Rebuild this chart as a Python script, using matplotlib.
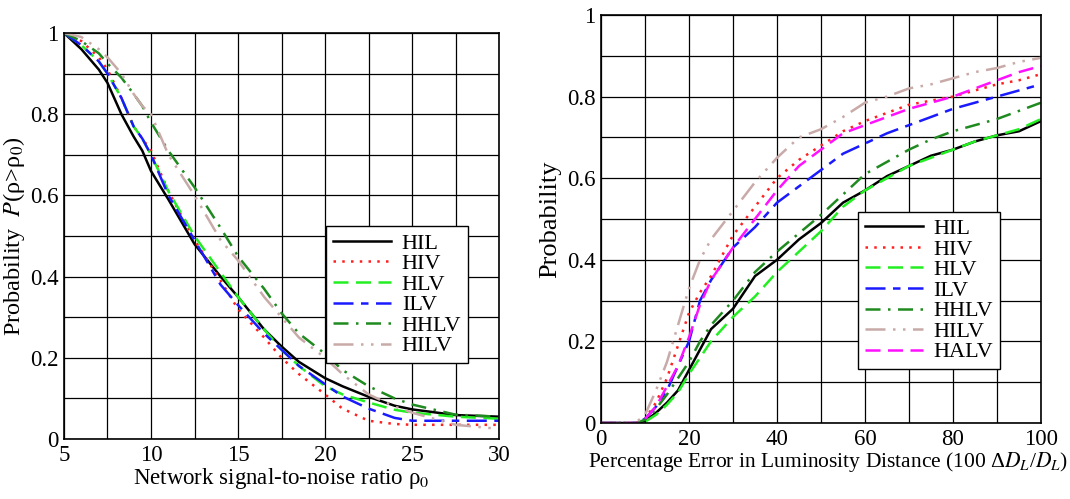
import matplotlib
matplotlib.use("Agg")
import matplotlib.pyplot as plt
from matplotlib.ticker import MultipleLocator, FuncFormatter

plt.rcParams['font.family'] = ['Liberation Serif', 'DejaVu Serif']
plt.rcParams['mathtext.fontset'] = 'stix'

# left panel: P(rho > rho0) vs network SNR
snr_x = [5, 6, 7, 7.5, 8.3, 9, 9.5, 10, 11, 12.5, 14, 15, 16.5, 17.5, 18.5, 20, 21, 22.5, 24, 25, 27.5, 30]
snr_hil = [1.0, 0.96, 0.91, 0.877, 0.80, 0.745, 0.71, 0.66, 0.59, 0.48, 0.40, 0.35, 0.27, 0.228, 0.19, 0.15, 0.13, 0.104, 0.082, 0.073, 0.059, 0.055]
snr_hiv = [1.0, 0.98, 0.94, 0.91, 0.84, 0.77, 0.74, 0.71, 0.61, 0.49, 0.39, 0.32, 0.25, 0.20, 0.16, 0.11, 0.075, 0.045, 0.037, 0.035, 0.035, 0.035]
snr_hlv = [1.0, 0.97, 0.93, 0.90, 0.84, 0.77, 0.74, 0.70, 0.61, 0.50, 0.41, 0.35, 0.27, 0.22, 0.18, 0.13, 0.11, 0.09, 0.072, 0.065, 0.055, 0.05]
snr_ilv = [1.0, 0.97, 0.93, 0.90, 0.84, 0.77, 0.74, 0.70, 0.60, 0.49, 0.38, 0.33, 0.26, 0.22, 0.18, 0.135, 0.105, 0.075, 0.052, 0.045, 0.045, 0.045]
snr_hhlv = [1.0, 0.98, 0.95, 0.925, 0.89, 0.85, 0.82, 0.78, 0.71, 0.62, 0.52, 0.45, 0.37, 0.31, 0.26, 0.21, 0.17, 0.13, 0.10, 0.085, 0.06, 0.055]
snr_hilv = [1.0, 0.99, 0.96, 0.94, 0.90, 0.85, 0.82, 0.80, 0.70, 0.60, 0.49, 0.44, 0.35, 0.30, 0.25, 0.20, 0.16, 0.11, 0.08, 0.065, 0.035, 0.025]

# right panel: probability vs percentage error in luminosity distance
err_x = [0, 5, 8, 10, 12.5, 15, 17.5, 20, 22.5, 25, 30, 35, 40, 45, 50, 55, 60, 65, 70, 75, 80, 85, 90, 95, 100]
err_hil = [0, 0, 0, 0.005, 0.025, 0.05, 0.08, 0.13, 0.18, 0.23, 0.28, 0.36, 0.40, 0.45, 0.49, 0.54, 0.57, 0.605, 0.63, 0.655, 0.67, 0.69, 0.705, 0.715, 0.74]
err_hiv = [0, 0, 0, 0.01, 0.05, 0.11, 0.19, 0.27, 0.32, 0.36, 0.46, 0.53, 0.60, 0.645, 0.68, 0.715, 0.74, 0.76, 0.78, 0.79, 0.80, 0.815, 0.83, 0.84, 0.855]
err_hlv = [0, 0, 0, 0.003, 0.02, 0.045, 0.075, 0.12, 0.16, 0.20, 0.26, 0.31, 0.37, 0.42, 0.47, 0.53, 0.57, 0.60, 0.63, 0.65, 0.67, 0.69, 0.705, 0.72, 0.745]
err_ilv = [0, 0, 0, 0.01, 0.04, 0.08, 0.14, 0.20, 0.30, 0.35, 0.43, 0.48, 0.54, 0.58, 0.62, 0.66, 0.685, 0.71, 0.73, 0.75, 0.77, 0.785, 0.80, 0.815, 0.83]
err_hhlv = [0, 0, 0, 0.008, 0.035, 0.07, 0.11, 0.15, 0.20, 0.24, 0.30, 0.37, 0.42, 0.465, 0.51, 0.56, 0.61, 0.64, 0.67, 0.695, 0.715, 0.73, 0.745, 0.765, 0.785]
err_hilv = [0, 0, 0.002, 0.02, 0.08, 0.15, 0.24, 0.33, 0.40, 0.45, 0.52, 0.59, 0.65, 0.70, 0.72, 0.75, 0.785, 0.80, 0.82, 0.83, 0.845, 0.86, 0.87, 0.885, 0.895]
err_halv = [0, 0, 0, 0.01, 0.04, 0.09, 0.14, 0.21, 0.29, 0.35, 0.43, 0.50, 0.57, 0.63, 0.67, 0.71, 0.73, 0.75, 0.77, 0.785, 0.80, 0.82, 0.84, 0.86, 0.875]

styles = {
    'HIL': dict(color='black', ls='-'),
    'HIV': dict(color='#ff2020', ls=(0, (1, 2.5))),
    'HLV': dict(color='#22ee22', ls=(0, (6, 3))),
    'ILV': dict(color='#1a1aff', ls=(0, (8, 3, 3, 3))),
    'HHLV': dict(color='#1f8a1f', ls=(0, (6, 3, 1, 3))),
    'HILV': dict(color='#c8aaa8', ls=(0, (8, 3, 1, 3, 1, 3))),
    'HALV': dict(color='#ff10ff', ls=(0, (6, 3))),
}


def fmt(v, pos):
    return ('%g' % v)


def style_axes(ax):
    ax.grid(True, which='both', color='black', lw=0.9)
    ax.set_axisbelow(True)
    ax.tick_params(which='both', length=0, labelsize=16.5, pad=4)
    ax.yaxis.set_major_locator(MultipleLocator(0.2))
    ax.yaxis.set_minor_locator(MultipleLocator(0.1))
    ax.yaxis.set_major_formatter(FuncFormatter(fmt))
    for s in ax.spines.values():
        s.set_linewidth(1.2)


leg_kw = dict(fontsize=16, frameon=True, fancybox=False, edgecolor='black',
              framealpha=1, handlelength=2.6, labelspacing=0.0, borderpad=0.3,
              handletextpad=0.5, borderaxespad=0)

fig = plt.figure(figsize=(10.7, 4.99), dpi=100)

ax1 = fig.add_axes([0.0598, 0.1202, 0.4066, 0.8137])
for name, ys in [('HIL', snr_hil), ('HIV', snr_hiv), ('HLV', snr_hlv),
                 ('ILV', snr_ilv), ('HHLV', snr_hhlv), ('HILV', snr_hilv)]:
    ax1.plot(snr_x, ys, lw=1.8, label=name, **styles[name])
ax1.set_xlim(5, 30)
ax1.set_ylim(0, 1)
ax1.xaxis.set_major_locator(MultipleLocator(5))
ax1.xaxis.set_minor_locator(MultipleLocator(2.5))
style_axes(ax1)
ax1.set_xlabel(r'Network signal-to-noise ratio ρ$_0$', fontsize=16.5, labelpad=0)
ax1.set_ylabel(r'Probability  $P$(ρ>ρ$_0$)', fontsize=17.5, labelpad=2)
ax1.legend(loc='lower right', bbox_to_anchor=(0.929, 0.187), **leg_kw)

ax2 = fig.add_axes([0.5617, 0.1523, 0.4112, 0.8177])
for name, ys in [('HIL', err_hil), ('HIV', err_hiv), ('HLV', err_hlv),
                 ('ILV', err_ilv), ('HHLV', err_hhlv), ('HILV', err_hilv),
                 ('HALV', err_halv)]:
    ax2.plot(err_x, ys, lw=1.8, label=name, **styles[name])
ax2.set_xlim(0, 100)
ax2.set_ylim(0, 1)
ax2.xaxis.set_major_locator(MultipleLocator(20))
ax2.xaxis.set_minor_locator(MultipleLocator(10))
style_axes(ax2)
ax2.set_xlabel(r'Percentage Error in Luminosity Distance (100 Δ$D_L$/$D_L$)',
               fontsize=15.5, labelpad=0, ha='left', x=-0.03)
ax2.set_ylabel('Probability', fontsize=19, labelpad=4)
ax2.legend(loc='lower right', bbox_to_anchor=(0.907, 0.132), **leg_kw)

fig.savefig('out.png', dpi=100)
